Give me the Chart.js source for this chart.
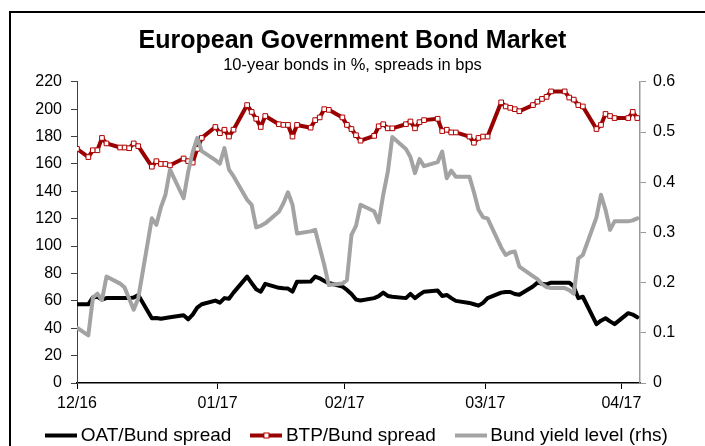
<!DOCTYPE html>
<html>
<head>
<meta charset="utf-8">
<script src="https://cdn.jsdelivr.net/npm/chart.js@4/dist/chart.umd.min.js"></script>
<style>
  html, body { margin: 0; padding: 0; background: #fff; }
  #wrap { position: relative; width: 705px; height: 446px; overflow: hidden; }
  #frame { position: absolute; left: 9px; top: 11px; width: 900px; height: 700px; border: 2px solid #000; pointer-events: none; }
  canvas { position: absolute; left: 0; top: 0; }
</style>
</head>
<body>
<div id="wrap">
  <div id="frame"></div>
  <canvas id="bondChart" width="705" height="446"></canvas>
</div>
<script>
// day positions (days from year end, weekdays only)
const days = [-0.5,
  2, 3, 4, 5, 6,
  9, 10, 11, 12, 13,
  16, 17, 18, 19, 20,
  23, 24, 25, 26, 27,
  30, 31, 32, 33, 34,
  37, 38, 39, 40, 41,
  44, 45, 46, 47, 48,
  51, 52, 53, 54, 55,
  58, 59, 60, 61, 62,
  65, 66, 67, 68, 69,
  72, 73, 74, 75, 76,
  79, 80, 81, 82, 83,
  86, 87, 88, 89, 90,
  93, 94, 95, 96, 97,
  100, 101, 102, 103, 104,
  107, 108, 109, 110, 111,
  114, 115, 116, 117, 118,
  121, 122, 123];

// OAT/Bund spread, bps
const oatSpread = [57.5,
  57.5, 62.5, 63, 61, 62,
  62, 62, 62, 62.5, 64.3,
  47.3, 47.5, 47, 47.5, 48,
  49.5, 46.5, 50, 55, 57.5,
  60.2, 58.7, 62, 61.5, 66,
  77.7, 73, 68.5, 66.7, 72.4,
  69.5, 69.2, 69, 66.7, 74,
  74.1, 77.7, 76.5, 74.5, 73,
  70.5, 68, 65, 61, 60.2,
  62, 63.5, 66, 63.6, 63,
  62, 65.1, 62, 64.5, 66.7,
  67.5, 63.6, 64.3, 62, 60,
  58.5, 57.5, 56.5, 58.5, 62,
  66, 66.5, 66.5, 65, 64.5,
  70.5, 73.3, 72.5, 72, 73.3,
  73.3, 73.3, 70.5, 62, 63,
  43, 45.5, 47.3, 45, 43,
  51, 50, 48];

// BTP/Bund spread, bps
const btpSpread = [171,
  165, 170, 170, 179, 175,
  172, 172, 171.5, 175, 173,
  158, 162, 160, 160, 159,
  164, 162, 161, 171, 179,
  187, 182.5, 185, 180, 185,
  203, 198, 193, 187, 195,
  189, 188.5, 188.5, 180, 188.5,
  186.5, 192, 194, 200, 199.5,
  194, 188.5, 185.5, 181, 177,
  180.5, 187.5, 189, 186, 186,
  189, 191, 186, 190.5, 192,
  193, 184, 185, 183, 183,
  180, 175.5, 179, 180, 180,
  205, 202, 201, 200, 198.5,
  203, 205.5, 207.5, 209, 213,
  213, 208.5, 207, 203, 202,
  185.5, 188.5, 196.5, 195, 193.5,
  193.5, 198, 193.5];

// Bund 10y yield, % (right axis)
const bundYield = [0.11,
  0.095, 0.17, 0.178, 0.165, 0.212,
  0.198, 0.19, 0.168, 0.146, 0.169,
  0.328, 0.315, 0.35, 0.375, 0.425,
  0.368, 0.42, 0.46, 0.488, 0.462,
  0.444, 0.437, 0.468, 0.425, 0.412,
  0.365, 0.355, 0.31, 0.313, 0.318,
  0.341, 0.358, 0.38, 0.355, 0.298,
  0.302, 0.305, 0.27, 0.235, 0.195,
  0.198, 0.205, 0.295, 0.313, 0.355,
  0.342, 0.32, 0.375, 0.42, 0.49,
  0.466, 0.45, 0.418, 0.446, 0.432,
  0.44, 0.461, 0.408, 0.423, 0.411,
  0.411, 0.38, 0.345, 0.33, 0.328,
  0.27, 0.255, 0.26, 0.262, 0.232,
  0.213, 0.207, 0.197, 0.191, 0.189,
  0.189, 0.185, 0.178, 0.248, 0.255,
  0.33, 0.375, 0.345, 0.305, 0.322,
  0.322, 0.324, 0.328];

const tickDays = [-0.5, 30.5, 58.5, 89.5, 119.5];
const tickLabels = ['12/16', '01/17', '02/17', '03/17', '04/17'];

const FONT = "'Liberation Sans', Arial, sans-serif";
const OAT_COLOR = '#000000';
const BTP_COLOR = '#990000';
const BUND_COLOR = '#a3a3a3';

function toPoints(values) {
    return values.map((v, i) => ({ x: days[i], y: v }));
}

// small canvases used as legend samples
function legendSample(color, withMarker) {
    const c = document.createElement('canvas');
    c.width = 32;
    c.height = 10;
    const ctx = c.getContext('2d');
    ctx.fillStyle = color;
    ctx.fillRect(0, 3, 32, 4);
    if (withMarker) {
        ctx.fillStyle = '#fff';
        ctx.fillRect(13.5, 2.5, 5, 5);
        ctx.strokeStyle = '#b00000';
        ctx.lineWidth = 1;
        ctx.strokeRect(13.5, 2.5, 5, 5);
    }
    return c;
}

// pin the legend height, then move it up/right like the original
const legendFix = {
    id: 'legendFix',
    beforeLayout(chart) {
        const lg = chart.legend;
        if (lg && !lg._pinned) {
            const fit = lg.fit;
            lg.fit = function () {
                fit.call(this);
                this.height = 33;
            };
            lg._pinned = true;
        }
    },
    afterLayout(chart) {
        const lg = chart.legend;
        lg.left += 7;
        lg.right += 7;
        lg.top -= 12; // bottom stays at the canvas edge
    }
};

Chart.defaults.font.family = FONT;
Chart.defaults.color = '#000';

const ctx = document.getElementById('bondChart').getContext('2d');
new Chart(ctx, {
    type: 'line',
    data: {
        datasets: [
            {
                label: 'OAT/Bund spread',
                data: toPoints(oatSpread),
                borderColor: OAT_COLOR,
                borderWidth: 4,
                pointRadius: 0,
                yAxisID: 'y',
                order: 2
            },
            {
                label: 'BTP/Bund spread',
                data: toPoints(btpSpread),
                borderColor: BTP_COLOR,
                borderWidth: 4,
                pointStyle: 'rect',
                pointRadius: 3.3,
                pointBackgroundColor: '#ffffff',
                pointBorderColor: '#b00000',
                pointBorderWidth: 1,
                yAxisID: 'y',
                order: 1
            },
            {
                label: 'Bund yield level (rhs)',
                data: toPoints(bundYield),
                borderColor: BUND_COLOR,
                borderWidth: 4,
                pointRadius: 0,
                yAxisID: 'y1',
                order: 0
            }
        ]
    },
    options: {
        responsive: false,
        animation: false,
        devicePixelRatio: 1,
        elements: { line: { tension: 0, borderJoinStyle: 'round', borderCapStyle: 'round' } },
        layout: { padding: { top: 26, left: 0, right: 0, bottom: 0 } },
        scales: {
            x: {
                type: 'linear',
                min: -0.5,
                max: 123.6,
                afterBuildTicks: scale => { scale.ticks = tickDays.map(v => ({ value: v })); },
                afterFit: scale => { scale.height = 30; },
                ticks: {
                    autoSkip: false,
                    maxRotation: 0,
                    padding: 5,
                    font: { size: 16 },
                    callback: (value, index) => tickLabels[index]
                },
                grid: { drawOnChartArea: false, drawTicks: true, tickLength: 6, color: '#000' },
                border: { color: '#000', width: 1.5 }
            },
            y: {
                position: 'left',
                min: 0,
                max: 220,
                afterFit: scale => { scale.width = 77; },
                ticks: { stepSize: 20, padding: 9, font: { size: 16 } },
                grid: { drawOnChartArea: false, drawTicks: true, tickLength: 6, color: '#404040' },
                border: { color: '#404040', width: 1 }
            },
            y1: {
                position: 'right',
                min: 0,
                max: 0.6,
                afterFit: scale => { scale.width = 65; },
                ticks: {
                    stepSize: 0.1,
                    padding: 7,
                    font: { size: 16 },
                    callback: v => (v === 0 ? '0' : v.toFixed(1))
                },
                grid: { drawOnChartArea: false, drawTicks: true, tickLength: 6, color: '#999' },
                border: { color: '#999', width: 1.5 }
            }
        },
        plugins: {
            title: {
                display: true,
                text: 'European Government Bond Market',
                font: { size: 25, weight: 'bold' },
                color: '#000',
                padding: { top: 0, bottom: 0 }
            },
            subtitle: {
                display: true,
                text: '10-year bonds in %, spreads in bps',
                font: { size: 16.5 },
                color: '#000',
                padding: { top: 0, bottom: 6 }
            },
            legend: {
                position: 'bottom',
                labels: {
                    usePointStyle: true,
                    pointStyleWidth: 20,
                    padding: 25,
                    font: { size: 19 },
                    color: '#000',
                    generateLabels: chart => chart.data.datasets.map((ds, i) => ({
                        text: ds.label,
                        datasetIndex: i,
                        hidden: false,
                        lineWidth: 0,
                        fontColor: '#000',
                        pointStyle: legendSample(ds.borderColor, i === 1)
                    }))
                }
            },
            tooltip: { enabled: false }
        }
    },
    plugins: [legendFix]
});
</script>
</body>
</html>
